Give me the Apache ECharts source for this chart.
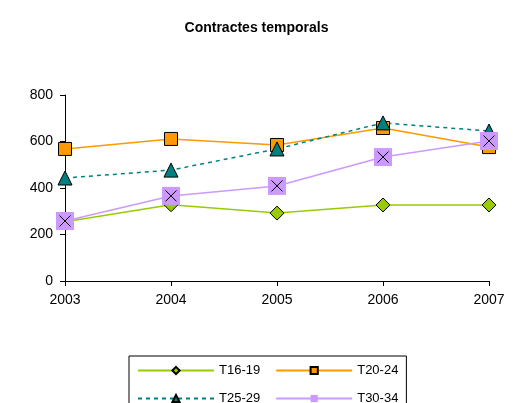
<!DOCTYPE html>
<html>
<head>
<meta charset="utf-8">
<script src="https://cdn.jsdelivr.net/npm/echarts@6/dist/echarts.min.js"></script>
<style>
  html, body { margin: 0; padding: 0; background: #fff; }
  #main { width: 513px; height: 403px; }
</style>
</head>
<body>
<div id="main"></div>
<script>
var years = ['2003', '2004', '2005', '2006', '2007'];
var t1619 = [255, 328, 292, 327, 327];
var t2024 = [568, 611, 585, 658, 576];
var t2529 = [443, 477, 568, 680, 645];
var t3034 = [258, 366, 409, 533, 602];
var yTicks = [0, 200, 400, 600, 800];

var chart = echarts.init(document.getElementById('main'), null, { renderer: 'canvas' });
var font = 'Liberation Sans, Arial, sans-serif';

var option = {
  backgroundColor: '#fff',
  animation: false,
  title: {
    text: 'Contractes temporals',
    left: 'center',
    top: 16,
    textStyle: { fontFamily: font, fontSize: 14, fontWeight: 'bold', color: '#000' }
  },
  grid: { left: 65, right: 24, top: 95, bottom: 122 },
  xAxis: {
    type: 'category',
    data: years,
    boundaryGap: false,
    axisLine: { lineStyle: { color: '#000', width: 1 } },
    axisTick: { show: true, length: 5, alignWithLabel: true, lineStyle: { color: '#000' } },
    axisLabel: { color: '#000', fontFamily: font, fontSize: 14, margin: 12 },
    splitLine: { show: false }
  },
  yAxis: {
    type: 'value',
    min: yTicks[0],
    max: yTicks[yTicks.length - 1],
    interval: 200,
    axisLine: { show: true, lineStyle: { color: '#000', width: 1 } },
    axisTick: { show: true, length: 5, lineStyle: { color: '#000' } },
    axisLabel: { color: '#000', fontFamily: font, fontSize: 14, margin: 12 },
    splitLine: { show: false }
  },
  legend: {
    data: ['T16-19', 'T20-24', 'T25-29', 'T30-34'],
    left: 129,
    top: 356,
    width: 290,
    orient: 'horizontal',
    itemWidth: 76,
    itemHeight: 9,
    itemGap: 15,
    padding: [8, 8, 6, 8],
    borderColor: '#000',
    borderWidth: 1,
    textStyle: { color: '#000', fontFamily: font, fontSize: 13, padding: [0, 7, 0, 0] }
  },
  series: [
    {
      name: 'T16-19', type: 'line', data: t1619,
      symbol: 'diamond', symbolSize: 14, showAllSymbol: true,
      lineStyle: { color: '#99cc00', width: 1.5 },
      itemStyle: { color: '#99cc00', borderColor: '#000', borderWidth: 1 }
    },
    {
      name: 'T20-24', type: 'line', data: t2024,
      symbol: 'rect', symbolSize: 13,
      lineStyle: { color: '#ff9900', width: 1.5 },
      itemStyle: { color: '#ff9900', borderColor: '#000', borderWidth: 1 }
    },
    {
      name: 'T25-29', type: 'line', data: t2529,
      symbol: 'triangle', symbolSize: 14,
      lineStyle: { color: '#008080', width: 1.5, type: [4, 4] },
      itemStyle: { color: '#008080', borderColor: '#000', borderWidth: 1 }
    },
    {
      name: 'T30-34', type: 'line', data: t3034,
      symbol: 'rect', symbolSize: 18,
      lineStyle: { color: '#cc99ff', width: 1.5 },
      itemStyle: { color: '#cc99ff', borderWidth: 0 }
    },
    {
      // X marks drawn on top of the purple squares
      name: 'T30-34-x', type: 'line', data: t3034,
      symbol: 'path://M0,0L10,10M10,0L0,10', symbolSize: 11,
      lineStyle: { width: 0 },
      itemStyle: { color: 'none', borderColor: '#000', borderWidth: 1 },
      silent: true
    }
  ]
};

chart.setOption(option);
</script>
</body>
</html>
